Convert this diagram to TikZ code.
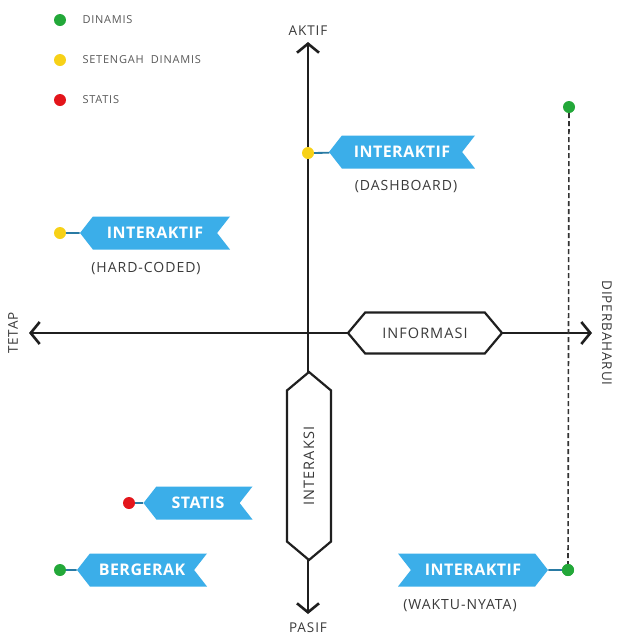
\documentclass[tikz,border=0pt]{standalone}
\usepackage{fontspec}
\setmainfont{Open Sans}
\newfontfamily\spacedfont{Open Sans}[LetterSpace=7]
\newfontfamily\bannerfont{Open Sans}[LetterSpace=3]
\usetikzlibrary{arrows.meta,shapes.symbols}
\definecolor{bannerblue}{HTML}{3BAEE9}
\definecolor{dotgreen}{HTML}{23A839}
\definecolor{dotyellow}{HTML}{F7D117}
\definecolor{dotred}{HTML}{E3151B}
\definecolor{txtgray}{HTML}{3A3A3A}
\begin{document}
\begin{tikzpicture}[x=1pt,y=-1pt,
  axisline/.style={line width=2.6pt, draw=black!88,
    {Straight Barb[length=9pt,width=22pt,line width=2.6pt]}-{Straight Barb[length=9pt,width=22pt,line width=2.6pt]}},
  dotnode/.style={circle, minimum size=12pt, inner sep=0pt},
  banner/.style={signal, fill=bannerblue, text=white,
    font=\bannerfont\bfseries\fontsize{16}{19}\selectfont,
    minimum height=33pt, inner sep=0pt, signal pointer angle=104},
  link/.style={draw=bannerblue!70!black, line width=1.8pt},
  sublabel/.style={text=txtgray, font=\spacedfont\fontsize{14}{17}\selectfont},
  legendtext/.style={text=black!65, font=\spacedfont\fontsize{11}{13}\selectfont, anchor=west},
  axislabel/.style={text=txtgray, font=\spacedfont\fontsize{13.5}{16}\selectfont},
  hexa/.style={signal, draw=black!88, fill=white, line width=2.2pt, text=txtgray,
    font=\spacedfont\fontsize{14.5}{17}\selectfont, inner sep=0pt},
  dashline/.style={draw=black!80, line width=1.6pt, dash pattern=on 5pt off 3pt}
]
\useasboundingbox (0,0) rectangle (620,638);
\fill[white] (0,0) rectangle (620,638);

% legend
\node[dotnode, fill=dotgreen] (lg) at (60,20) {};
\node[legendtext] (lgt) at (79,20) {DINAMIS};
\node[dotnode, fill=dotyellow] (ly) at (60,60) {};
\node[legendtext] (lyt) at (79,60) {SETENGAH\ \ DINAMIS};
\node[dotnode, fill=dotred] (lr) at (60,100) {};
\node[legendtext] (lrt) at (79,100) {STATIS};

% axes
\coordinate (vtop) at (308,42);
\coordinate (vbot) at (308,614);
\coordinate (hleft) at (29,333);
\coordinate (hright) at (592,333);
\draw[axisline] (vbot) -- (vtop);
\draw[axisline] (hleft) -- (hright);

\node[axislabel] (aktif) at (308,31) {AKTIF};
\node[axislabel] (pasif) at (308,628) {PASIF};
\node[axislabel, rotate=90] (tetap) at (13,333) {TETAP};
\node[axislabel, rotate=-90] (diper) at (607,333) {DIPERBAHARUI};

% hexagons
\node[hexa, signal to=west and east, minimum width=154pt, minimum height=41pt,
  signal pointer angle=100] (info) at (425,333) {INFORMASI};
\node[hexa, signal to=north and south, minimum width=44pt, minimum height=160pt,
  signal pointer angle=100] (inter) at (309,466) {\rotatebox{90}{INTERAKSI}};

% dashed update line
\node[dotnode, fill=dotgreen] (gtop) at (569,107) {};
\node[dotnode, fill=dotgreen] (gbot) at (568,570) {};
\draw[dashline] (gtop) -- (gbot);

% banners
\node[dotnode, fill=dotyellow] (d1) at (308,153) {};
\node[banner, signal to=west, signal from=east, minimum width=146pt] (b1) at (402,152) {INTERAKTIF};
\draw[link] (d1) -- (b1);
\node[sublabel] (s1) at (406,187) {(DASHBOARD)};

\node[dotnode, fill=dotyellow] (d2) at (60,233) {};
\node[banner, signal to=west, signal from=east, minimum width=150pt] (b2) at (155,233) {INTERAKTIF};
\draw[link] (d2) -- (b2);
\node[sublabel] (s2) at (146,269) {(HARD-CODED)};

\node[dotnode, fill=dotred] (d3) at (129,503) {};
\node[banner, signal to=west, signal from=east, minimum width=109pt] (b3) at (198,503) {STATIS};
\draw[link] (d3) -- (b3);

\node[dotnode, fill=dotgreen] (d4) at (60,570) {};
\node[banner, signal to=west, signal from=east, minimum width=130pt] (b4) at (142,570) {BERGERAK};
\draw[link] (d4) -- (b4);

\node[banner, signal to=east, signal from=west, minimum width=150pt] (b5) at (473,570) {INTERAKTIF};
\draw[link] (gbot) -- (b5);
\node[sublabel] (s5) at (460,606) {(WAKTU-NYATA)};
\node[dotnode, fill=dotgreen] at (gbot) {};
\end{tikzpicture}
\end{document}
